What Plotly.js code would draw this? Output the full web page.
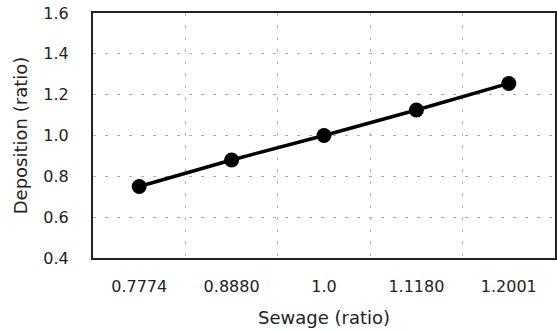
<!DOCTYPE html>
<html><head><meta charset="utf-8">
<script src="https://cdn.plot.ly/plotly-3.0.1.min.js"></script>
<style>html,body{margin:0;padding:0;background:#fff}#chart{width:557px;height:332px}</style>
</head><body><div id="chart"></div>
<script>
const sewage = ["0.7774", "0.8880", "1.0", "1.1180", "1.2001"];
const deposition = [0.75, 0.88, 1.0, 1.125, 1.255];
const yTicks = [0.4, 0.6, 0.8, 1.0, 1.2, 1.4, 1.6];

const fontFam = '"DejaVu Sans", sans-serif';
Plotly.newPlot('chart', [{
  x: sewage, y: deposition, type: 'scatter', mode: 'lines+markers',
  line: {color: '#000', width: 3.5},
  marker: {color: '#000', size: 15}
}], {
  width: 557, height: 332,
  margin: {l: 93, r: 2, t: 13, b: 74},
  paper_bgcolor: '#fff', plot_bgcolor: '#fff',
  showlegend: false,
  font: {family: fontFam, size: 16, color: '#222'},
  xaxis: {
    type: 'category', range: [-0.5, 4.5],
    tickson: 'boundaries', ticks: '', ticklabelstandoff: 13,
    showgrid: true, gridcolor: '#b0b0b0', griddash: '3px,9px', gridwidth: 1,
    showline: true, linecolor: '#222', linewidth: 2, mirror: true,
    zeroline: false,
    title: {text: 'Sewage (ratio)', standoff: 16, font: {size: 18}}
  },
  yaxis: {
    range: [0.4, 1.6], tickvals: yTicks, ticktext: yTicks.map(v => v.toFixed(1)),
    ticks: '', ticklabelstandoff: 19,
    showgrid: true, gridcolor: '#b0b0b0', griddash: '3px,9px', gridwidth: 1,
    showline: true, linecolor: '#222', linewidth: 2, mirror: true,
    zeroline: false,
    title: {text: 'Deposition (ratio)', standoff: 11, font: {size: 18}}
  }
}, {staticPlot: true});
</script></body></html>
